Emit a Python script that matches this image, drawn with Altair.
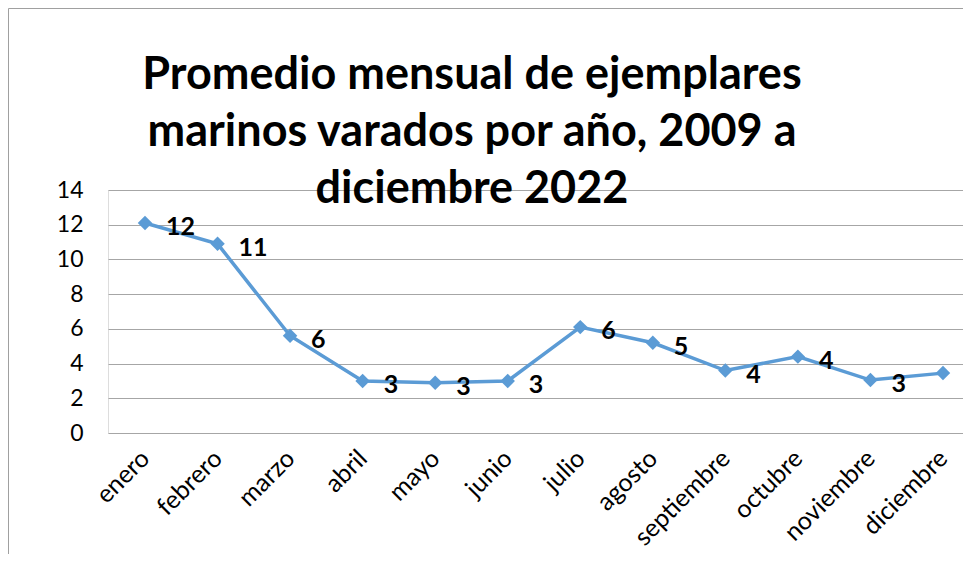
import altair as alt
import pandas as pd

months = ["enero", "febrero", "marzo", "abril", "mayo", "junio", "julio",
          "agosto", "septiembre", "octubre", "noviembre", "diciembre"]
values = [12.1, 10.9, 5.6, 3.0, 2.9, 3.0, 6.1, 5.2, 3.6, 4.4, 3.05, 3.45]
labels = ["12", "11", "6", "3", "3", "3", "6", "5", "4", "4", "3", "3"]
y_ticks = [0, 2, 4, 6, 8, 10, 12, 14]
title_lines = ["Promedio mensual de ejemplares",
               "marinos varados por año, 2009 a",
               "diciembre 2022"]

df = pd.DataFrame({"idx": list(range(len(months))), "month": months,
                   "value": values, "label": labels})

FONT = "Lato"
BLUE = "#5B9BD5"
GRID = "#A6A6A6"

month_expr = "[" + ",".join("'%s'" % m for m in months) + "][datum.value]"

x = alt.X("idx:Q",
          scale=alt.Scale(domain=[-0.51, 11.276], nice=False, zero=False),
          axis=alt.Axis(values=list(range(len(months))), labelExpr=month_expr,
                        title=None, grid=False, ticks=False, domain=False,
                        labelAngle=-45, labelFontSize=25, labelFont=FONT,
                        labelColor="black", labelPadding=21,
                        labelAlign="right", labelBaseline="middle",
                        labelOverlap=False, labelBound=False))
y = alt.Y("value:Q",
          scale=alt.Scale(domain=[0, 14], nice=False),
          axis=alt.Axis(values=y_ticks, title=None, ticks=False, domain=False,
                        grid=True, gridColor=GRID, gridWidth=1,
                        labelFontSize=23, labelFont=FONT, labelColor="black",
                        labelPadding=25, labelOverlap=False))

base = alt.Chart(df)
line = base.mark_line(color=BLUE, strokeWidth=3.5).encode(x=x, y=y)
pts = base.mark_point(shape="diamond", filled=True, size=210, color=BLUE,
                      opacity=1).encode(x=x, y=y)
txt = base.mark_text(align="left", baseline="middle", dx=21, dy=4,
                     fontSize=25, fontWeight="bold", font=FONT,
                     color="black").encode(x=x, y=y, text="label:N")

one = pd.DataFrame({"a": [0]})
title = alt.Chart(one).mark_text(
    text=title_lines, lineHeight=57, baseline="alphabetic", align="center",
    fontSize=45, fontWeight="bold", font=FONT, color="black", clip=False
).encode(x=alt.value(364), y=alt.value(-101))

left_border = alt.Chart(one).mark_rule(color="#A0A0A0", clip=False).encode(
    x=alt.value(-99.5), y=alt.value(-181.5), y2=alt.value(400))
top_border = alt.Chart(one).mark_rule(color="#A0A0A0", clip=False).encode(
    x=alt.value(-99.5), x2=alt.value(900), y=alt.value(-181.5))

chart = alt.layer(line, pts, txt, left_border, top_border, title).properties(
    width=855, height=243,
    autosize=alt.AutoSizeParams(type="none"),
    padding={"left": 100, "top": 182, "right": 0, "bottom": 121},
).configure_view(stroke=GRID, strokeWidth=1).configure(background="white")

chart.save("out.html", embed_options={"renderer": "svg", "actions": False})
